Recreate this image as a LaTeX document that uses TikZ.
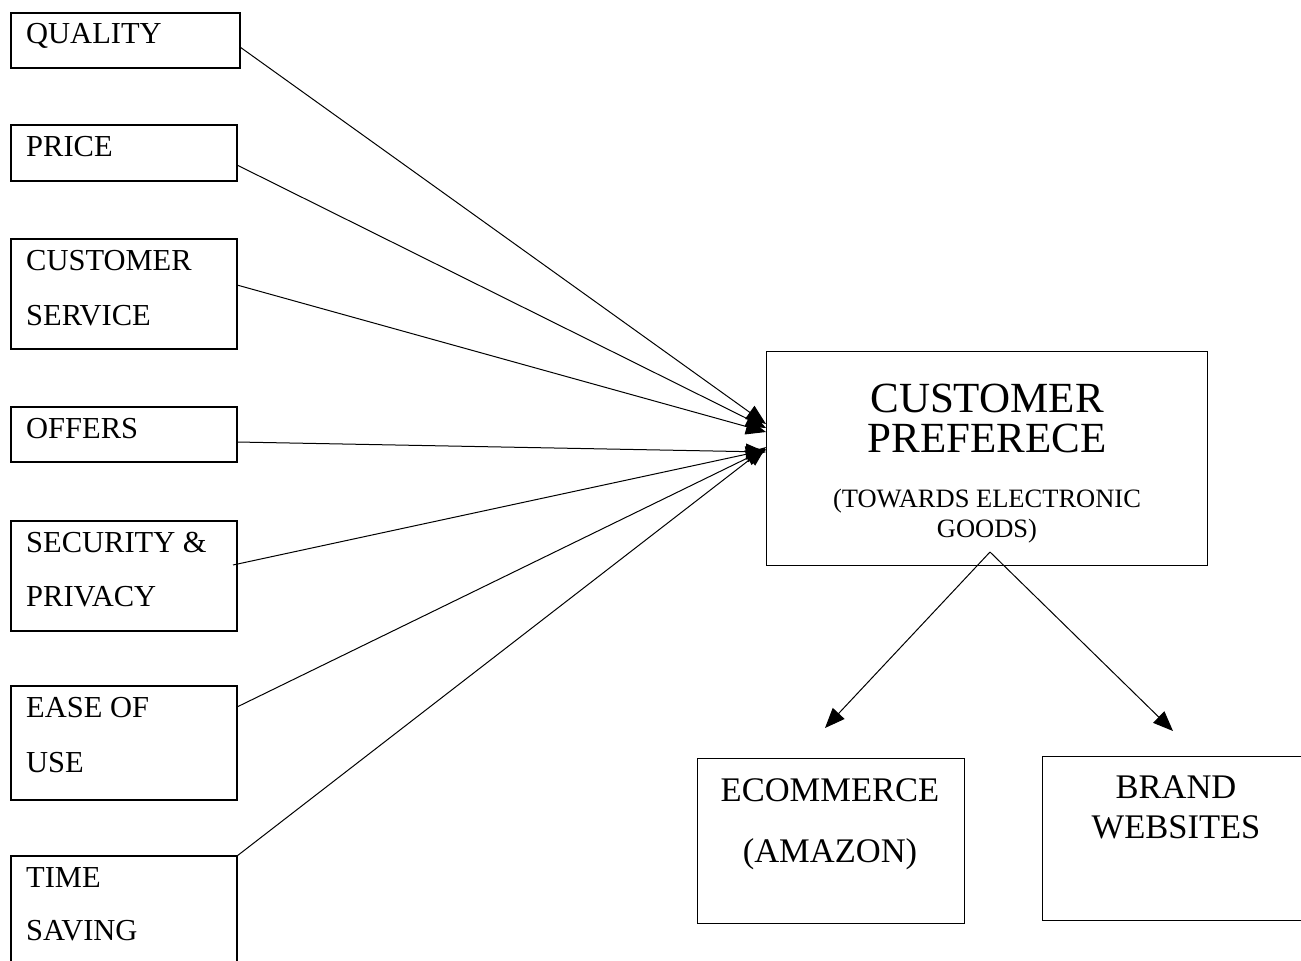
\documentclass[tikz,border=0pt]{standalone}
\usepackage{fontspec}
\setmainfont{Liberation Serif}
\usetikzlibrary{arrows.meta}
\begin{document}
\begin{tikzpicture}[x=1pt,y=-1pt,
  lbox/.style={draw, line width=1.3pt, anchor=north west, inner sep=0pt, outer sep=0pt},
  rbox/.style={draw, line width=1pt, anchor=north west, inner sep=0pt, outer sep=0pt},
  ltxt/.style={anchor=base west, inner sep=0pt, font=\fontsize{30.5}{36}\selectfont},
  btxt/.style={anchor=base, inner sep=0pt, font=\fontsize{43}{50}\selectfont},
  stxt/.style={anchor=base, inner sep=0pt, font=\fontsize{26.5}{32}\selectfont},
  mtxt/.style={anchor=base, inner sep=0pt, font=\fontsize{34.5}{40}\selectfont},
  conn/.style={line width=1pt, -{Triangle[length=20pt,width=16pt]}}
]
\useasboundingbox (0,0) rectangle (1301,961);
\clip (0,0) rectangle (1301,961);

% left boxes
\node[lbox, minimum width=229pt, minimum height=55pt] (q) at (11,13) {};
\node[lbox, minimum width=226pt, minimum height=56pt] (p) at (11,125) {};
\node[lbox, minimum width=226pt, minimum height=110pt] (cs) at (11,239) {};
\node[lbox, minimum width=226pt, minimum height=55pt] (o) at (11,407) {};
\node[lbox, minimum width=226pt, minimum height=110pt] (s) at (11,521) {};
\node[lbox, minimum width=226pt, minimum height=114pt] (e) at (11,686) {};
\node[lbox, minimum width=226pt, minimum height=130pt] (t) at (11,856) {};

\node[ltxt] (qt) at (26,43) {QUALITY};
\node[ltxt] (pt) at (26,156) {PRICE};
\node[ltxt] (cst1) at (26,270) {CUSTOMER};
\node[ltxt] (cst2) at (26,325) {SERVICE};
\node[ltxt] (ot) at (26,438) {OFFERS};
\node[ltxt] (st1) at (26,552) {SECURITY \&};
\node[ltxt] (st2) at (26,606) {PRIVACY};
\node[ltxt] (et1) at (26,717) {EASE OF};
\node[ltxt] (et2) at (26,772) {USE};
\node[ltxt] (tt1) at (26,887) {TIME};
\node[ltxt] (tt2) at (26,940) {SAVING};

% central box
\node[rbox, minimum width=441pt, minimum height=214pt] (c) at (766,351) {};
\node[btxt] (ct1) at (987,412) {CUSTOMER};
\node[btxt] (ct2) at (987,452) {PREFERECE};
\node[stxt] (ct3) at (987,507) {(TOWARDS ELECTRONIC};
\node[stxt] (ct4) at (987,537) {GOODS)};

% bottom boxes
\node[rbox, minimum width=267pt, minimum height=165pt] (ec) at (697,758) {};
\node[mtxt] (ect1) at (830,801) {ECOMMERCE};
\node[mtxt] (ect2) at (830,862) {(AMAZON)};
\node[rbox, minimum width=280pt, minimum height=164pt] (br) at (1042,756) {};
\node[mtxt] (brt1) at (1176,798) {BRAND};
\node[mtxt] (brt2) at (1176,838) {WEBSITES};

% connectors into central box
\draw[conn] ([yshift=-6.5pt]q.east) -- ([yshift=34pt]c.west);
\draw[conn] ([yshift=-12pt]p.east) -- ([yshift=30pt]c.west);
\draw[conn] ([yshift=9pt]cs.east) -- ([yshift=26pt]c.west);
\draw[conn] ([yshift=-7.5pt]o.east) -- ([yshift=6pt]c.west);
\draw[conn] ([xshift=-4pt,yshift=11pt]s.east) -- ([yshift=8pt]c.west);
\draw[conn] ([yshift=36pt]e.east) -- ([yshift=9pt]c.west);
\draw[conn] (t.north east) -- ([yshift=11pt]c.west);

% connectors out of central box
\coordinate (cstart) at (990,552);
\coordinate (ecend) at (825,728);
\coordinate (brend) at (1173,731);
\draw[conn] (cstart) -- (ecend);
\draw[conn] (cstart) -- (brend);
\end{tikzpicture}
\end{document}
